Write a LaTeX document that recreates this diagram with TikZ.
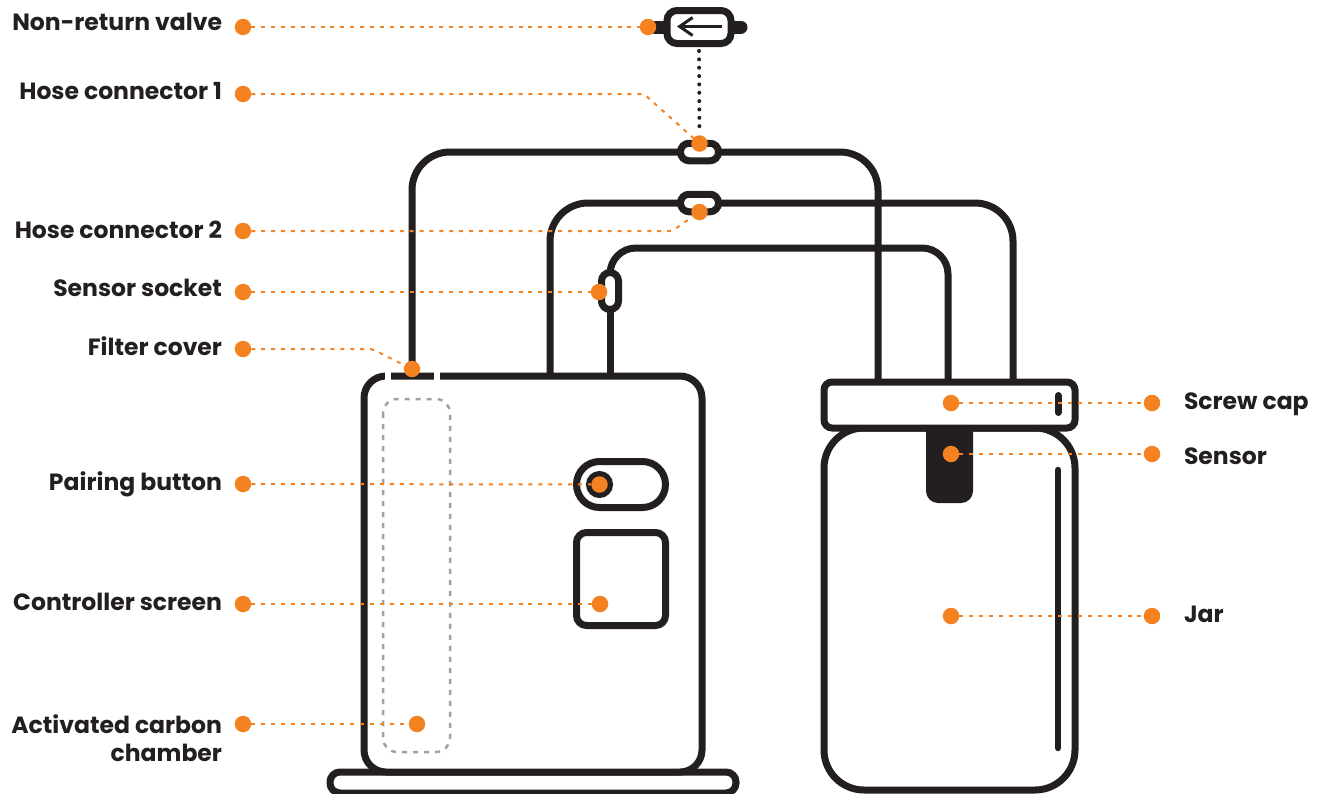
\documentclass[tikz,border=0pt]{standalone}
\usepackage{fontspec}
\setmainfont{Poppins}
\usetikzlibrary{arrows.meta, positioning}
\definecolor{leaderorange}{HTML}{F58220}
\definecolor{linedark}{HTML}{231F20}
\definecolor{chambergray}{HTML}{A0A1A3}

\begin{document}
\begin{tikzpicture}[
    x=1pt, y=-1pt,
    every node/.style={inner sep=0pt, outer sep=0pt},
    part/.style={draw=linedark, line width=7pt, rounded corners=#1, inner sep=0pt},
    hose/.style={draw=linedark, line width=7pt, rounded corners=#1},
    pin/.style={circle, fill=leaderorange, minimum size=16.5pt},
    leader/.style={draw=leaderorange, line width=2pt, dash pattern=on 4pt off 5.9pt, rounded corners=3pt},
    partlabel/.style={font=\fontsize{23.5}{28}\selectfont\bfseries, text=linedark, align=#1},
]
\useasboundingbox (0,0) rectangle (1326,793);

% Hoses
\coordinate (hoseonefoot) at (412,376);
\coordinate (hosetwofoot) at (550,376);
\coordinate (hosethreefoot) at (610,376);
\coordinate (hoseoneend) at (878,382);
\coordinate (hosetwoend) at (1013,382);
\coordinate (hosethreeend) at (948,382);
\draw[hose=38pt] (hoseonefoot) |- (699,152) -| (hoseoneend);
\draw[hose=38pt] (hosetwofoot) |- (699,203) -| (hosetwoend);
\draw[hose=26pt] (610,275) |- (780,248) -| (hosethreeend);
\draw[hose=0pt] (hosethreefoot) -- (610,305);

% Hose connectors
\node[part=8.5pt, fill=white, minimum width=38pt, minimum height=17.5pt] (hoseconnone) at (699.5,152) {};
\node[part=8.5pt, fill=white, minimum width=38pt, minimum height=17.5pt] (hoseconntwo) at (699.5,203) {};
\node[part=8.5pt, fill=white, minimum width=17pt, minimum height=37pt] (socket) at (610,291) {};

% Non-return valve
\draw[linedark, line width=13pt, line cap=round] (655,27) coordinate (valveleft) -- (741,27) coordinate (valveright);
\node[part=10pt, fill=white, minimum width=64pt, minimum height=33pt] (valve) at (699,27) {};
\draw[linedark, line width=3pt, -{Straight Barb[length=13pt, width=18pt]}] (722,26.5) -- (677,26.5);
\draw[linedark, line width=4pt, line cap=round, dash pattern=on 0pt off 8.35pt, shorten >=11pt, shorten <=7.5pt] (valve.south) -- (hoseconnone.north);

% Base and controller housing
\node[part=10pt, fill=white, minimum width=406pt, minimum height=21pt] (base) at (533,782.5) {};
\node[part=22pt, fill=white, minimum width=338pt, minimum height=396pt] (housing) at (533,574) {};
\fill[white] (385,372) rectangle (391,380);
\fill[white] (434,372) rectangle (440,380);
\draw[chambergray, line width=2.5pt, dash pattern=on 5pt off 6pt, rounded corners=14pt] (383,399) rectangle (450,752);
\node[part=23pt, fill=white, minimum width=89pt, minimum height=46pt] (pairpill) at (621,484.5) {};
\node[circle, draw=linedark, line width=6pt, fill=white, minimum size=21pt] (pairring) at (599.5,484.5) {};
\node[part=10pt, fill=white, minimum width=89pt, minimum height=93pt] (screen) at (621,579) {};

% Jar with cap
\node[part=40pt, fill=white, minimum width=251pt, minimum height=362pt] (jar) at (949.5,609) {};
\node[part=8pt, fill=white, minimum width=251pt, minimum height=46pt] (cap) at (949.5,405) {};
\fill[linedark] (926,426) -- (973,426) [rounded corners=12pt] -- (973,503) -- (926,503) [sharp corners] -- cycle;
\draw[linedark, line width=7pt, line cap=round] (1058,395.5) -- (1058,412.5);
\draw[linedark, line width=6.5pt, line cap=round] (1058,470) -- (1058,748);

% Pins on the left
\node[pin] (pinvalve) at (243,27) {};
\node[pin] (pinhoseone) at (243,94) {};
\node[pin] (pinhosetwo) at (243,231) {};
\node[pin] (pinsocket) at (243,292) {};
\node[pin] (pinfilter) at (243,349) {};
\node[pin] (pinpairing) at (243,484) {};
\node[pin] (pinscreen) at (243,604) {};
\node[pin] (pinchamber) at (243,724) {};

% Pins on the parts
\node[pin] (tipvalve) at (648,27) {};
\node[pin] (tiphoseone) at (699.5,143.5) {};
\node[pin] (tiphosetwo) at (699.5,212) {};
\node[pin] (tipsocket) at (599,292) {};
\node[pin] (tipfilter) at (412,369) {};
\node[pin] (tippairing) at (599.5,484.5) {};
\node[pin] (tipscreen) at (600,604) {};
\node[pin] (tipchamber) at (417,724) {};
\node[pin] (tipcap) at (951,403) {};
\node[pin] (tipsensor) at (951,454) {};
\node[pin] (tipjar) at (951,616) {};

% Pins on the right
\node[pin] (pincap) at (1152,403) {};
\node[pin] (pinsensor) at (1152,454) {};
\node[pin] (pinjar) at (1152,616) {};

% Leaders
\draw[leader] (pinvalve) -- (tipvalve);
\draw[leader] (pinhoseone) -- (644,94) -- (tiphoseone);
\draw[leader] (pinhosetwo) -- (672,231) -- (tiphosetwo);
\draw[leader] (pinsocket) -- (tipsocket);
\draw[leader] (pinfilter) -- (372,349) -- (tipfilter);
\draw[leader] (pinpairing) -- (tippairing);
\draw[leader] (pinscreen) -- (tipscreen);
\draw[leader] (pinchamber) -- (tipchamber);
\draw[leader] (tipcap) -- (pincap);
\draw[leader] (tipsensor) -- (pinsensor);
\draw[leader] (tipjar) -- (pinjar);

% Labels
\node[partlabel=right, anchor=base east] (labvalve) at (222,30) {Non-return valve};
\node[partlabel=right, anchor=base east] (labhoseone) at (222,99) {Hose connector 1};
\node[partlabel=right, anchor=base east] (labhosetwo) at (222,238) {Hose connector 2};
\node[partlabel=right, anchor=base east] (labsocket) at (222,296) {Sensor socket};
\node[partlabel=right, anchor=base east] (labfilter) at (222,355) {Filter cover};
\node[partlabel=right, anchor=base east] (labpairing) at (222,490) {Pairing button};
\node[partlabel=right, anchor=base east] (labscreen) at (222,610) {Controller screen};
\node[partlabel=right, anchor=base east] (labchamber) at (222,761) {Activated carbon\\chamber};
\node[partlabel=left, anchor=base west] (labcap) at (1184,409) {Screw cap};
\node[partlabel=left, anchor=base west] (labsensor) at (1184,464) {Sensor};
\node[partlabel=left, anchor=base west] (labjar) at (1184,622) {Jar};
\end{tikzpicture}
\end{document}
